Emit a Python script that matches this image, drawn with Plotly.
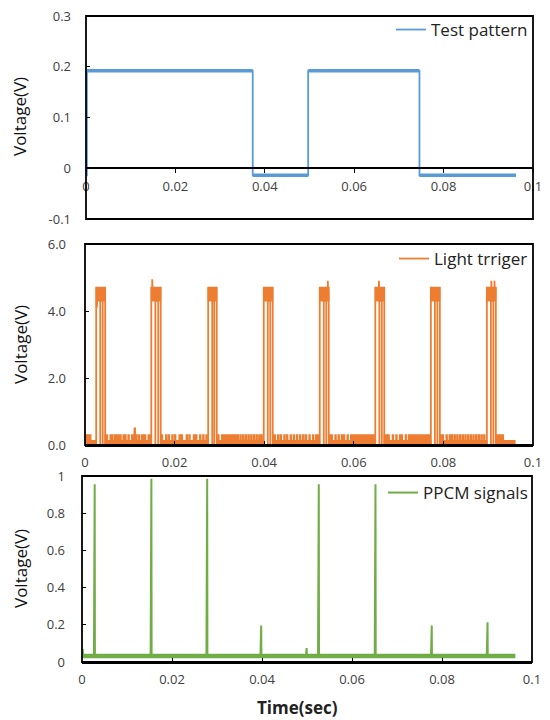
import plotly.graph_objects as go

# ---------------- data (times in ms, voltages in V) ----------------
# Test pattern (blue): step edges and levels
tp_edges = [0.0, 0.2, 37.3, 49.7, 74.6, 96.2]
tp_levels = [-0.014, 0.192, -0.014, 0.192, -0.014]

# Light trigger (orange): pulses
lt_start = [2.5, 14.8, 27.5, 39.9, 52.4, 64.8, 77.2, 89.7]
lt_end = [4.5, 16.9, 29.4, 41.9, 54.4, 66.8, 79.2, 91.7]
lt_top = 4.7
lt_band_low = 4.3
lt_peaks_t = [2.6, 15.0, 54.2, 65.6, 90.7, 91.4]
lt_peaks_v = [4.1, 4.95, 4.9, 4.9, 4.9, 4.9]
# baseline (orange): low level, glitch level, solid blocks, glitches
lt_low = 0.13
lt_glitch = 0.3
lt_blocks_start = [0.0, 4.5, 16.9, 29.4, 41.9, 54.4, 66.8, 79.2, 91.7]
lt_blocks_end = [1.3, 5.0, 17.3, 29.9, 42.5, 55.2, 67.9, 80.0, 93.4]
lt_glitches = [5.6, 6.0, 6.6, 7.0, 7.4, 7.8, 8.5, 8.9, 9.6, 10.4, 10.7, 11.3, 11.9, 12.6, 13.0, 13.3, 14.1, 14.4,
               18.0, 18.6, 19.4, 20.0, 21.0, 21.5, 22.6, 23.2, 24.2, 24.7, 25.6, 26.3, 27.0,
               30.5, 31.0, 31.5, 32.0, 32.5, 33.0, 33.5, 34.0, 34.6, 35.2, 35.8, 36.4, 37.0, 37.6, 38.2, 38.8, 39.3,
               43.0, 43.6, 44.4, 45.0, 45.8, 46.5, 47.2, 47.9, 48.6, 49.2, 50.0, 50.8, 51.5, 52.0,
               55.8, 56.5, 57.2, 57.7, 58.5, 59.3, 59.8, 60.3, 60.8, 61.3, 61.8, 62.3, 62.8, 63.3, 63.8, 64.3,
               68.6, 69.4, 70.2, 70.6, 71.5, 72.2, 72.7, 73.2, 73.7, 74.2, 74.7, 75.2, 75.7, 76.2, 76.7,
               80.6, 81.3, 81.8, 82.4, 83.0, 83.6, 84.2, 84.8, 85.4, 86.0, 86.6, 87.2, 87.8, 88.4, 89.0]
lt_spike_t = [11.0]
lt_spike_v = [0.5]
lt_end_t = 96.1

# PPCM signals (green)
pp_base = 0.032
pp_end_t = 96.3
pp_spike_t = [0.05, 2.7, 15.3, 27.7, 39.7, 49.8, 52.5, 65.1, 77.6, 90.0]
pp_spike_v = [0.07, 0.955, 0.985, 0.985, 0.196, 0.075, 0.955, 0.955, 0.196, 0.213]

# tick labels
tp_yticks = [0.3, 0.2, 0.1, 0, -0.1]
tp_ytext = ["0.3", "0.2", "0.1", "0", "-0.1"]
lt_yticks = [0, 2, 4, 6]
lt_ytext = ["0.0", "2.0", "4.0", "6.0"]
pp_yticks = [0, 0.2, 0.4, 0.6, 0.8, 1]
pp_ytext = ["0", "0.2", "0.4", "0.6", "0.8", "1"]
x_ticks = [0, 0.02, 0.04, 0.06, 0.08, 0.1]
x_text = ["0", "0.02", "0.04", "0.06", "0.08", "0.1"]

BLUE = "#5B9BD5"
ORANGE = "#ED7D31"
GREEN = "#70AD47"
MS = 1e-3

fig = go.Figure()

# ---------- Test pattern ----------
bx, by = [], []
for i, lv in enumerate(tp_levels):
    bx += [tp_edges[i] * MS, tp_edges[i + 1] * MS]
    by += [lv, lv]
fig.add_trace(go.Scatter(x=bx, y=by, mode="lines", line=dict(color=BLUE, width=1.8),
                         name="Test pattern", xaxis="x", yaxis="y", legend="legend"))
hx, hy = [], []
for i, lv in enumerate(tp_levels):
    if tp_edges[i + 1] - tp_edges[i] > 1:
        hx += [tp_edges[i] * MS, tp_edges[i + 1] * MS, None]
        hy += [lv, lv, None]
fig.add_trace(go.Scatter(x=hx, y=hy, mode="lines", line=dict(color=BLUE, width=3.5),
                         showlegend=False, xaxis="x", yaxis="y", hoverinfo="skip"))

# ---------- Light trigger ----------
# baseline
gx, gy = [0.0], [lt_low]
events = []
for s, e in zip(lt_blocks_start, lt_blocks_end):
    events.append((s, e, lt_glitch))
for g in lt_glitches:
    events.append((g, g + 0.25, lt_glitch))
for g, v in zip(lt_spike_t, lt_spike_v):
    events.append((g, g + 0.25, v))
for s, e in zip(lt_start, lt_end):
    events.append((s, e, 0.0))
events.sort()
for s, e, v in events:
    gx += [s, s, e, e]
    gy += [lt_low, v, v, lt_low]
gx += [lt_end_t]
gy += [lt_low]
fig.add_trace(go.Scatter(x=[v * MS for v in gx], y=gy, mode="lines", line=dict(color=ORANGE, width=1.3),
                         fill="tozeroy", fillcolor=ORANGE, showlegend=False, xaxis="x2", yaxis="y2",
                         hoverinfo="skip"))
# pulse bands
fx, fy = [], []
for s, e in zip(lt_start, lt_end):
    fx += [s * MS, s * MS, e * MS, e * MS, s * MS, None]
    fy += [lt_band_low, lt_top, lt_top, lt_band_low, lt_band_low, None]
fig.add_trace(go.Scatter(x=fx, y=fy, mode="lines", line=dict(color=ORANGE, width=1),
                         fill="toself", fillcolor=ORANGE, showlegend=False, xaxis="x2", yaxis="y2",
                         hoverinfo="skip"))
# pulse outlines
px_, py_ = [], []
for s, e in zip(lt_start, lt_end):
    px_ += [s * MS, s * MS, e * MS, e * MS, None]
    py_ += [0, lt_top, lt_top, 0, None]
    px_ += [(s + 0.9) * MS, (s + 0.9) * MS, (e - 0.55) * MS, (e - 0.55) * MS, None]
    py_ += [0, lt_band_low, lt_band_low, 0, None]
for t, v in zip(lt_peaks_t, lt_peaks_v):
    px_ += [t * MS, t * MS, (t + 0.15) * MS, (t + 0.15) * MS, None]
    py_ += [lt_band_low, v, v, lt_band_low, None]
fig.add_trace(go.Scatter(x=px_, y=py_, mode="lines", line=dict(color=ORANGE, width=1.8),
                         name="Light trriger", xaxis="x2", yaxis="y2", legend="legend2"))

# ---------- PPCM signals ----------
fig.add_trace(go.Scatter(x=[0, pp_end_t * MS], y=[pp_base, pp_base], mode="lines",
                         line=dict(color=GREEN, width=4.5), showlegend=False, xaxis="x3", yaxis="y3",
                         hoverinfo="skip"))
sx, sy = [], []
for t, v in zip(pp_spike_t, pp_spike_v):
    sx += [(t - 0.05) * MS, t * MS, (t + 0.12) * MS, (t + 0.17) * MS, None]
    sy += [pp_base, v, v, pp_base, None]
fig.add_trace(go.Scatter(x=sx, y=sy, mode="lines", line=dict(color=GREEN, width=2),
                         name="PPCM signals", xaxis="x3", yaxis="y3", legend="legend3"))

# ---------- layout ----------
# the page body has an 8px margin, so the figure is 8px smaller and
# window coordinates are shifted by 8px
OFF = 8
W, H = 550 - OFF, 720 - OFF
def px(v):
    return (v - OFF) / W
def py(v):
    return 1 - (v - OFF) / H

top_dom_y = [py(219), py(16)]
mid_dom_y = [py(445), py(244)]
bot_dom_y = [py(662), py(476)]
top_x0 = top_dom_y[0] + 0.25 * (top_dom_y[1] - top_dom_y[0])

FONT = "Open Sans, Liberation Sans, sans-serif"
tickfont = dict(family=FONT, size=13, color="#404040")

def xax(domain, **kw):
    d = dict(domain=domain, range=[0, 0.1], tickvals=x_ticks, ticktext=x_text, tickfont=tickfont,
             showgrid=False, zeroline=False, showline=True, linecolor="black", linewidth=1.5,
             ticks="inside", ticklen=4, tickcolor="black", tickwidth=1.3, automargin=False,
             ticklabelstandoff=5, ticklabeloverflow="allow")
    d.update(kw)
    return d

def yax(domain, rng, tv, tt, **kw):
    d = dict(domain=domain, range=rng, tickvals=tv, ticktext=tt, tickfont=tickfont,
             showgrid=False, zeroline=False, showline=False, automargin=False,
             ticks="inside", ticklen=4, tickcolor="black", tickwidth=1.3, ticklabelstandoff=12,
             ticklabeloverflow="allow")
    d.update(kw)
    return d

legfont = dict(family=FONT, size=17, color="#222")
fig.update_layout(
    width=W, height=H, margin=dict(l=0, r=0, t=0, b=0, autoexpand=False),
    paper_bgcolor="white", plot_bgcolor="white",
    xaxis=xax([px(86), px(533)], anchor="free", position=top_x0, ticks="outside", ticklabelstandoff=2),
    yaxis=yax(top_dom_y, [-0.1, 0.3], tp_yticks, tp_ytext, anchor="x", ticklabelstandoff=14),
    xaxis2=xax([px(85), px(533)], anchor="y2"),
    yaxis2=yax(mid_dom_y, [0, 6], lt_yticks, lt_ytext, anchor="x2", ticklabelstandoff=18),
    xaxis3=xax([px(82), px(532)], anchor="y3"),
    yaxis3=yax(bot_dom_y, [0, 1], pp_yticks, pp_ytext, anchor="x3", ticklabelstandoff=16),
    legend=dict(x=px(533), xanchor="right", y=py(30), yanchor="middle", bgcolor="rgba(0,0,0,0)",
                font=legfont, itemwidth=30),
    legend2=dict(x=px(533), xanchor="right", y=py(259), yanchor="middle", bgcolor="rgba(0,0,0,0)",
                 font=legfont, itemwidth=30),
    legend3=dict(x=px(533), xanchor="right", y=py(493), yanchor="middle", bgcolor="rgba(0,0,0,0)",
                 font=legfont, itemwidth=30),
    showlegend=True,
)

# frames
for xr, yr in [("x domain", "y domain"), ("x2 domain", "y2 domain"), ("x3 domain", "y3 domain")]:
    fig.add_shape(type="rect", xref=xr, yref=yr, x0=0, x1=1, y0=0, y1=1,
                  line=dict(color="black", width=1.8), fillcolor="rgba(0,0,0,0)", layer="above")

# axis titles
for yc in [117, 345, 569]:
    fig.add_annotation(text="Voltage(V)", x=px(20), y=py(yc), xref="paper", yref="paper",
                       textangle=-90, showarrow=False, xanchor="center", yanchor="middle",
                       font=dict(family=FONT, size=17, color="#111"))
fig.add_annotation(text="<b>Time(sec)</b>", x=px(297), y=py(707), xref="paper", yref="paper",
                   showarrow=False, xanchor="center", yanchor="middle",
                   font=dict(family=FONT, size=17, color="#222"))

fig.write_html("out.html")
